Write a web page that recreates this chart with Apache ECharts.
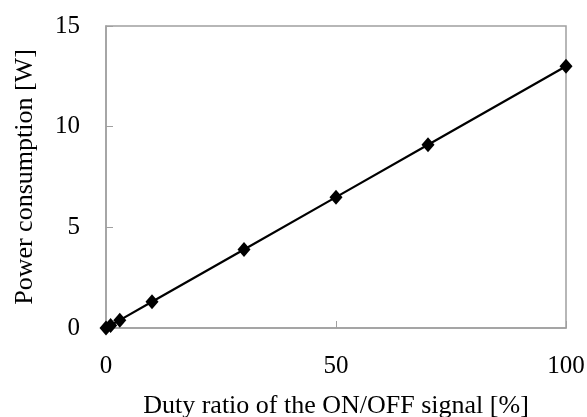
<!DOCTYPE html>
<html><head><meta charset="utf-8">
<script src="https://cdn.jsdelivr.net/npm/echarts@6/dist/echarts.min.js"></script>
<style>html,body{margin:0;padding:0;background:#fff}#c{width:587px;height:417px}</style>
</head><body><div id="c"></div>
<script>
const dutyRatio = [0, 1, 3, 10, 30, 50, 70, 100];
const power = [0, 0.13, 0.39, 1.3, 3.9, 6.5, 9.1, 13.0];
const xLabel = 'Duty ratio of the ON/OFF signal [%]';
const yLabel = 'Power consumption [W]';

const font = '"Liberation Serif", "Times New Roman", serif';
const chart = echarts.init(document.getElementById('c'));
chart.setOption({
  animation: false,
  grid: {left: 106, right: 21, top: 26, bottom: 89, outerBoundsMode: 'none', containLabel: false,
         show: true, borderColor: '#a0a0a0', borderWidth: 1.5, backgroundColor: 'transparent'},
  xAxis: {
    type: 'value', min: 0, max: 100, interval: 50,
    name: xLabel, nameLocation: 'middle', nameGap: 65,
    nameTextStyle: {fontFamily: font, fontSize: 26, color: '#000'},
    axisLine: {show: true, lineStyle: {color: '#a0a0a0', width: 1.5}},
    axisTick: {show: true, inside: true, length: 7, lineStyle: {color: '#a0a0a0'}},
    axisLabel: {fontFamily: font, fontSize: 25, color: '#000', margin: 26},
    splitLine: {show: false}
  },
  yAxis: {
    type: 'value', min: 0, max: 15, interval: 5,
    name: yLabel, nameLocation: 'middle', nameGap: 68,
    nameTextStyle: {fontFamily: font, fontSize: 26, color: '#000'},
    axisLine: {show: true, lineStyle: {color: '#a0a0a0', width: 1.5}},
    axisTick: {show: true, inside: true, length: 7, lineStyle: {color: '#a0a0a0'}},
    axisLabel: {fontFamily: font, fontSize: 25, color: '#000', margin: 26},
    splitLine: {show: false}
  },
  series: [{
    type: 'line',
    data: dutyRatio.map((d, i) => [d, power[i]]),
    symbol: 'diamond', symbolSize: [13, 15],
    itemStyle: {color: '#000'},
    lineStyle: {color: '#000', width: 2.2}
  }]
});
</script></body></html>
